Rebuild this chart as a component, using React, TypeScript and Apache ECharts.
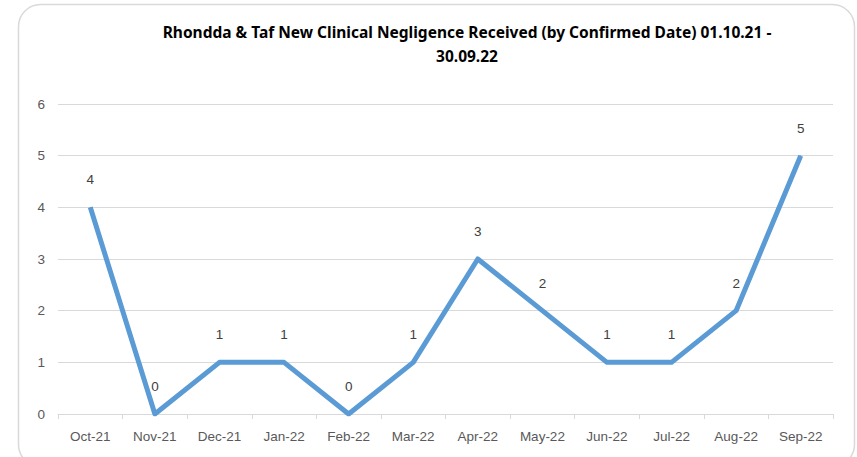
import React, { useEffect, useRef } from "react";
import * as echarts from "echarts";

const titleLines = [
  "Rhondda & Taf New Clinical Negligence Received (by Confirmed Date) 01.10.21 -",
  "30.09.22",
];
const categories = [
  "Oct-21", "Nov-21", "Dec-21", "Jan-22", "Feb-22", "Mar-22",
  "Apr-22", "May-22", "Jun-22", "Jul-22", "Aug-22", "Sep-22",
];
const values = [4, 0, 1, 1, 0, 1, 3, 2, 1, 1, 2, 5];
const yMin = 0;
const yMax = 6;
const yInterval = 1;

export default function App() {
  const ref = useRef<HTMLDivElement>(null);
  useEffect(() => {
    if (!ref.current) return;
    const chart = echarts.init(ref.current, null, { renderer: "svg" });
    const font = "Liberation Sans, Arial, sans-serif";
    chart.setOption({
      animation: false,
      backgroundColor: "#ffffff",
      title: {
        text: titleLines.join("\n"),
        left: 462,
        top: 15,
        textAlign: "center",
        textStyle: {
          fontFamily: "Noto Sans, sans-serif",
          fontSize: 15.5,
          fontWeight: "bold",
          color: "#000000",
          lineHeight: 24,
        },
      },
      graphic: [
        {
          type: "rect",
          shape: { x: 18.5, y: 4.5, width: 836, height: 462, r: 22 },
          style: { fill: "none", stroke: "#d9d9d9", lineWidth: 1.5 },
          silent: true,
        },
      ],
      grid: { left: 58, right: 24, top: 104, bottom: 43, containLabel: false },
      xAxis: {
        type: "category",
        data: categories,
        boundaryGap: true,
        axisLine: { show: true, lineStyle: { color: "#d9d9d9", width: 1 } },
        axisTick: { show: true, length: 5, lineStyle: { color: "#d9d9d9" } },
        axisLabel: {
          color: "#595959",
          fontFamily: font,
          fontSize: 13.5,
          margin: 15,
        },
      },
      yAxis: {
        type: "value",
        min: yMin,
        max: yMax,
        interval: yInterval,
        axisLine: { show: false },
        axisTick: { show: false },
        axisLabel: {
          color: "#595959",
          fontFamily: font,
          fontSize: 13.5,
          margin: 13,
        },
        splitLine: { lineStyle: { color: "#d9d9d9", width: 1.2 } },
      },
      series: [
        {
          type: "line",
          data: values,
          showSymbol: true,
          symbol: "circle",
          symbolSize: 1,
          lineStyle: { color: "#5b9bd5", width: 5, join: "round" },
          itemStyle: { color: "#5b9bd5" },
          label: {
            show: true,
            position: "top",
            distance: 20,
            color: "#404040",
            fontFamily: font,
            fontSize: 13.5,
          },
        },
      ],
    });
    return () => chart.dispose();
  }, []);
  return (
    <div
      ref={ref}
      style={{ position: "fixed", left: 0, top: 0, width: 857, height: 457 }}
    />
  );
}
